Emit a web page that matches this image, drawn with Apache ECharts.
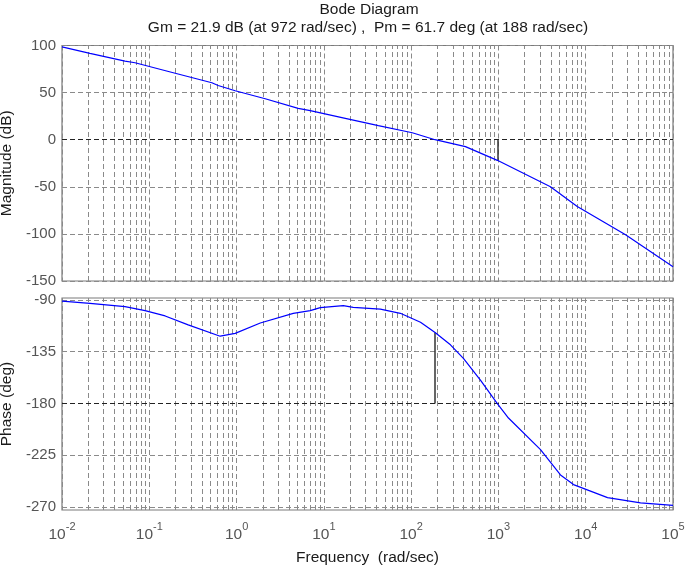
<!DOCTYPE html>
<html><head><meta charset="utf-8">
<script src="https://cdn.jsdelivr.net/npm/echarts@6/dist/echarts.min.js"></script>
<style>html,body{margin:0;padding:0;background:#fff}#c{width:685px;height:567px}</style>
</head><body><div id="c"></div>
<script>
// ---- data ----
const magFreq = [0.01, 0.0209, 0.0527, 0.0687, 0.198, 0.521, 0.615, 0.964, 2.13, 5.08, 6.98, 17.6, 42.1, 103, 188, 419, 972, 3945, 8000, 28600, 100000];
const magDb   = [98.5, 91.7, 83.5, 81.7, 70.5, 60.5, 57.5, 52, 43.5, 33.3, 30.8, 22.7, 14.9, 7.4, 0, -7.4, -21.9, -49.9, -71, -101, -135];
const phFreq  = [0.01, 0.0209, 0.0527, 0.0895, 0.152, 0.279, 0.649, 0.964, 1.87, 4.46, 6.98, 9.1, 16.7, 21.7, 44.4, 75.2, 128, 188, 282, 397, 622, 972, 1303, 3034, 5140, 7244, 17783, 42462, 100000];
const phDeg   = [-91, -92.9, -95.8, -99.3, -103.9, -111.7, -121.5, -119, -110, -101.6, -99.3, -96.7, -95, -96.5, -98, -101.6, -109.4, -118.3, -129, -140.7, -159.6, -180, -192.6, -220, -242, -250.4, -261.7, -266.3, -268.4];
const magTicks = [-150, -100, -50, 0, 50, 100];
const phaseTicks = [-270, -225, -180, -135, -90];
const gainMargin = [21.9];   // dB
const gainCrossFreq = [972]; // rad/sec
const phaseMargin = [61.7];  // deg
const phaseCrossFreq = [188];// rad/sec
const decadeExps = [-2, -1, 0, 1, 2, 3, 4];
const minorMults = [2, 3, 4, 5, 6, 7, 8, 9];

const titleText = 'Bode Diagram';
const subText = 'Gm = 21.9 dB (at 972 rad/sec) ,  Pm = 61.7 deg (at 188 rad/sec)';

const FONT = 'Liberation Sans, Arial, Helvetica, sans-serif';
const gridColor = '#8a8a8a';
const dash = [5, 3];

const minorVals = [];
decadeExps.forEach(e => minorMults.forEach(m => minorVals.push(m * Math.pow(10, e))));
const vGrid = minorVals.map(v => ({ xAxis: v }));

const chart = echarts.init(document.getElementById('c'), null, { renderer: 'canvas' });

function xAxisCfg(idx, showLabels) {
  return {
    type: 'log', logBase: 10, gridIndex: idx, min: 0.01, max: 100000, splitNumber: 7,
    axisLine: { show: false }, axisTick: { show: false },
    splitLine: { show: true, lineStyle: { color: gridColor, type: dash, width: 1 } },
    axisLabel: showLabels ? {
      show: true, margin: 11, fontFamily: FONT,
      formatter: v => '{a|10}{b|' + Math.round(Math.log10(v)) + '}',
      rich: {
        a: { fontSize: 15.5, color: '#555', lineHeight: 22, verticalAlign: 'bottom', fontFamily: FONT },
        b: { fontSize: 11, color: '#555', lineHeight: 11, verticalAlign: 'top', fontFamily: FONT }
      }
    } : { show: false },
    name: showLabels ? 'Frequency  (rad/sec)' : '',
    nameLocation: 'middle', nameGap: 40,
    nameTextStyle: { fontSize: 15.5, color: '#1a1a1a', fontFamily: FONT }
  };
}

const option = {
  animation: false,
  backgroundColor: '#fff',
  textStyle: { fontFamily: FONT },
  title: [
    { text: titleText, left: 364, top: -3, textAlign: 'center',
      textStyle: { fontSize: 15.5, fontWeight: 'normal', color: '#1a1a1a', fontFamily: FONT } },
    { text: subText, left: 363, top: 15, textAlign: 'center',
      textStyle: { fontSize: 15.5, fontWeight: 'normal', color: '#1a1a1a', fontFamily: FONT } }
  ],
  grid: [
    { left: 62, top: 45.5, width: 611, height: 235.5, show: true, borderColor: '#7a7a7a', borderWidth: 1.2, containLabel: false, outerBoundsMode: 'none' },
    { left: 62, top: 298, width: 611, height: 212, show: true, borderColor: '#7a7a7a', borderWidth: 1.2, containLabel: false, outerBoundsMode: 'none' }
  ],
  xAxis: [xAxisCfg(0, false), xAxisCfg(1, true)],
  yAxis: [
    { type: 'value', gridIndex: 0, min: -150, max: 100, interval: 50,
      axisLine: { show: false }, axisTick: { show: false },
      axisLabel: { fontSize: 15, color: '#555', margin: 6, fontFamily: FONT },
      splitLine: { show: true, lineStyle: { color: gridColor, type: dash } },
      name: 'Magnitude (dB)', nameLocation: 'middle', nameGap: 44, nameRotate: 90,
      nameTextStyle: { fontSize: 15.5, color: '#1a1a1a', fontFamily: FONT } },
    { type: 'value', gridIndex: 1, min: -272.5, max: -88.3,
      axisLine: { show: false },
      axisTick: { show: false, customValues: phaseTicks },
      axisLabel: { fontSize: 15, color: '#555', margin: 6, fontFamily: FONT, customValues: phaseTicks },
      splitLine: { show: false },
      name: 'Phase (deg)', nameLocation: 'middle', nameGap: 44, nameRotate: 90,
      nameTextStyle: { fontSize: 15.5, color: '#1a1a1a', fontFamily: FONT } }
  ],
  series: [
    { type: 'line', xAxisIndex: 0, yAxisIndex: 0, data: [], z: 1, silent: true,
      markLine: { silent: true, symbol: 'none', label: { show: false }, animation: false,
        lineStyle: { color: gridColor, type: dash, width: 1 },
        data: vGrid.concat([{ yAxis: 0, lineStyle: { color: '#222', type: dash, width: 1 } }]) } },
    { type: 'line', xAxisIndex: 1, yAxisIndex: 1, data: [], z: 1, silent: true,
      markLine: { silent: true, symbol: 'none', label: { show: false }, animation: false,
        lineStyle: { color: gridColor, type: dash, width: 1 },
        data: vGrid.concat(phaseTicks.filter(t => t !== -180).map(t => ({ yAxis: t })))
          .concat([{ yAxis: -180, lineStyle: { color: '#222', type: dash, width: 1 } }]) } },
    { type: 'line', xAxisIndex: 0, yAxisIndex: 0, z: 5, showSymbol: false, silent: true,
      data: magFreq.map((f, i) => [f, magDb[i]]),
      lineStyle: { color: '#0000ff', width: 1.2 },
      markLine: { silent: true, symbol: 'none', label: { show: false },
        lineStyle: { color: '#333', type: 'solid', width: 1.5 },
        data: [[{ coord: [gainCrossFreq[0], 0] }, { coord: [gainCrossFreq[0], -gainMargin[0]] }]] } },
    { type: 'line', xAxisIndex: 1, yAxisIndex: 1, z: 5, showSymbol: false, silent: true,
      data: phFreq.map((f, i) => [f, phDeg[i]]),
      lineStyle: { color: '#0000ff', width: 1.2 },
      markLine: { silent: true, symbol: 'none', label: { show: false },
        lineStyle: { color: '#333', type: 'solid', width: 1.5 },
        data: [[{ coord: [phaseCrossFreq[0], -180] }, { coord: [phaseCrossFreq[0], -180 + phaseMargin[0]] }]] } }
  ]
};
chart.setOption(option);
</script>
</body></html>
